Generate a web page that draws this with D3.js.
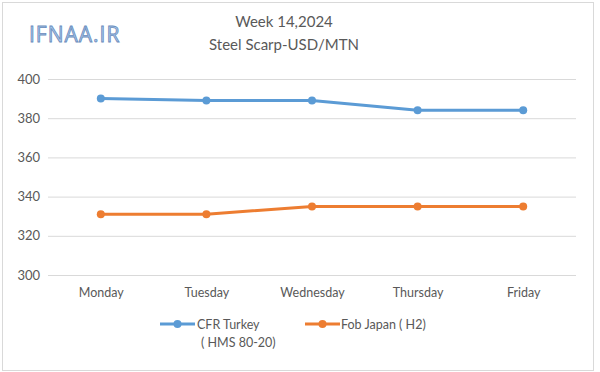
<meta charset="utf-8">
<head>
<style>
  body { margin: 0; background: #fff; }
  svg text { font-family: Lato, "Open Sans", sans-serif; }
</style>
</head>
<body>
	<div id="chartId"></div>
</body>
<script src="https://d3js.org/d3.v7.min.js"></script>
<script>

// data
var days = ["Monday", "Tuesday", "Wednesday", "Thursday", "Friday"];
var cfrTurkey = [390, 389, 389, 384, 384];
var fobJapan = [331, 331, 335, 335, 335];
var yTicks = [300, 320, 340, 360, 380, 400];
var seriesNames = ["CFR Turkey", "Fob Japan ( H2)"];

var width = 600, height = 372;
var colors = ["#5b9bd5", "#ed7d31"];

var svg = d3.select("#chartId").append("svg")
	.attr("width", width)
	.attr("height", height);

// outer border
svg.append("rect")
	.attr("x", 2.5).attr("y", 2.5)
	.attr("width", 591).attr("height", 368)
	.attr("fill", "#fff")
	.attr("stroke", "#d9d9d9");

var x = d3.scalePoint()
	.domain(days)
	.range([48, 576])
	.padding(0.5);

var y = d3.scaleLinear()
	.domain([300, 400])
	.range([275, 79]);

// gridlines
svg.selectAll(".grid")
	.data(yTicks)
	.enter()
	.append("line")
	.attr("x1", 48).attr("x2", 576)
	.attr("y1", function(d) { return y(d) + 0.5; })
	.attr("y2", function(d) { return y(d) + 0.5; })
	.attr("stroke", "#d9d9d9")
	.attr("stroke-width", 1);

// y axis labels
var yAxis = d3.axisLeft(y).tickValues(yTicks).tickSize(0).tickPadding(8);
var gy = svg.append("g").attr("transform", "translate(48,0)").call(yAxis);
gy.select(".domain").remove();
gy.selectAll("text")
	.attr("fill", "#595959")
	.attr("font-size", 13)
	.style("font-family", "Lato, sans-serif");

// x axis labels
var xAxis = d3.axisBottom(x).tickSize(0).tickPadding(8);
var gx = svg.append("g").attr("transform", "translate(0,280)").call(xAxis);
gx.select(".domain").remove();
gx.selectAll("text")
	.attr("fill", "#595959")
	.attr("font-size", 12.5)
	.style("font-family", "Lato, sans-serif");

// lines
var line = d3.line()
	.x(function(d, i) { return x(days[i]); })
	.y(function(d) { return y(d); });

[cfrTurkey, fobJapan].forEach(function(series, k) {
	svg.append("path")
		.datum(series)
		.attr("d", line)
		.attr("fill", "none")
		.attr("stroke", colors[k])
		.attr("stroke-width", 3)
		.attr("stroke-linejoin", "round");

	svg.selectAll(".pt" + k)
		.data(series)
		.enter()
		.append("circle")
		.attr("cx", function(d, i) { return x(days[i]); })
		.attr("cy", function(d) { return y(d); })
		.attr("r", 4)
		.attr("fill", colors[k]);
});

// titles
svg.append("text")
	.attr("x", 284).attr("y", 27)
	.attr("text-anchor", "middle")
	.attr("font-size", 15)
	.attr("fill", "#595959")
	.text("Week 14,2024");
svg.append("text")
	.attr("x", 284).attr("y", 50)
	.attr("text-anchor", "middle")
	.attr("font-size", 15)
	.attr("fill", "#595959")
	.text("Steel Scarp-USD/MTN");

// watermark
svg.append("text")
	.attr("x", 29).attr("y", 42)
	.attr("font-size", 21)
	.attr("letter-spacing", 1)
	.attr("fill", "#a9c9ec")
	.attr("stroke", "#6a8cbc")
	.attr("stroke-width", 0.8)
	.style("font-family", "'Open Sans', sans-serif")
	.text("IFNAA.IR");

// legend
var legend = [
	{ x1: 160, x2: 195, tx: 197, lines: ["CFR Turkey", " ( HMS 80-20)"] },
	{ x1: 305, x2: 340, tx: 341, lines: ["Fob Japan ( H2)"] }
];
legend.forEach(function(l, k) {
	svg.append("line")
		.attr("x1", l.x1).attr("x2", l.x2)
		.attr("y1", 324).attr("y2", 324)
		.attr("stroke", colors[k])
		.attr("stroke-width", 3);
	svg.append("circle")
		.attr("cx", (l.x1 + l.x2) / 2).attr("cy", 324)
		.attr("r", 4)
		.attr("fill", colors[k]);
	l.lines.forEach(function(t, j) {
		svg.append("text")
			.attr("x", l.tx + (j ? 4 : 0)).attr("y", 329 + j * 18)
			.attr("font-size", 12.5)
			.attr("fill", "#595959")
			.text(t);
	});
});

</script>
